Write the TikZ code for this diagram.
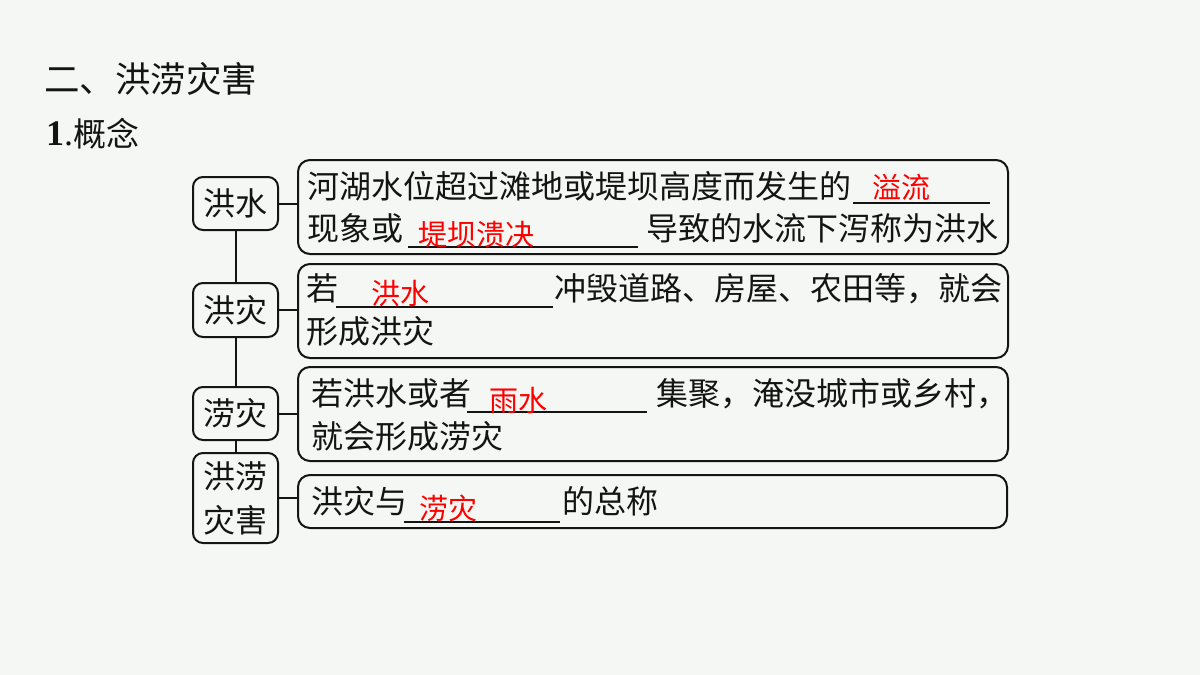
\documentclass[tikz,border=0pt]{standalone}
\usepackage{fontspec}
\newfontfamily\cjk{Noto Sans CJK SC}
\newfontfamily\serif{Liberation Serif}
\definecolor{bg}{RGB}{244,247,244}
\definecolor{ink}{RGB}{20,20,20}
\begin{document}
\begin{tikzpicture}[x=1pt,y=-1pt,
  bx/.style={draw=ink, line width=2pt, rounded corners=12pt, anchor=north west, inner sep=0pt},
  lbx/.style={draw=ink, line width=2pt, rounded corners=10pt, inner sep=0pt, align=center,
     font=\cjk\fontsize{32pt}{44pt}\selectfont, text=ink},
  conn/.style={draw=ink, line width=2pt},
  ul/.style={draw=ink, line width=1.5pt},
  bt/.style={anchor=base west, inner sep=0pt, text=ink, font=\cjk\fontsize{32pt}{38pt}\selectfont},
  rt/.style={anchor=base west, inner sep=0pt, text=red, font=\cjk\fontsize{29pt}{34pt}\selectfont}]
\fill[bg] (0,0) rectangle (1200,675);
\useasboundingbox (0,0) rectangle (1200,675);

% headings
\node[anchor=base west, inner sep=0pt, text=ink, font=\cjk\fontsize{35.5pt}{40pt}\selectfont] (title) at (44,92) {二、洪涝灾害};
\node[anchor=base west, inner sep=0pt, text=ink, font=\serif\fontsize{36pt}{40pt}\selectfont] (num) at (46,145) {\textbf{1}.};
\node[bt, font=\cjk\fontsize{33pt}{38pt}\selectfont] (gn) at (73,146) {概念};

% left boxes
\node[lbx, minimum width=85pt, minimum height=53pt] (l1) at (235.5,203.5) {洪水};
\node[lbx, minimum width=85pt, minimum height=54pt] (l2) at (235.5,310) {洪灾};
\node[lbx, minimum width=85pt, minimum height=53pt] (l3) at (235.5,413.5) {涝灾};
\node[lbx, minimum width=85pt, minimum height=90pt] (l4) at (235.5,498) {洪涝\\灾害};

% right boxes
\node[bx, minimum width=710pt, minimum height=94pt] (b1) at (297,159) {};
\node[bx, minimum width=710pt, minimum height=94pt] (b2) at (297,263) {};
\node[bx, minimum width=710pt, minimum height=94pt] (b3) at (297,366) {};
\node[bx, minimum width=709pt, minimum height=53pt] (b4) at (297,474) {};

% connectors
\draw[conn] (l1.south) -- (l2.north);
\draw[conn] (l2.south) -- (l3.north);
\draw[conn] (l3.south) -- (l4.north);
\draw[conn] (l1.east) -- (l1.east -| b1.west);
\draw[conn] (l2.east) -- (l2.east -| b2.west);
\draw[conn] (l3.east) -- (l3.east -| b3.west);
\draw[conn] (l4.east) -- (l4.east -| b4.west);

% box 1
\node[bt] (t1a) at (307,198) {河湖水位超过滩地或堤坝高度而发生的};
\draw[ul] (853,203) -- (990,203);
\node[rt] (r1a) at (872,198) {溢流};
\node[bt] (t1b) at (307,240) {现象或};
\draw[ul] (408,247) -- (638,247);
\node[rt] (r1b) at (418,245) {堤坝溃决};
\node[bt] (t1c) at (646,240) {导致的水流下泻称为洪水};

% box 2
\node[bt] (t2a) at (306,300) {若};
\draw[ul] (336,307) -- (553,307);
\node[rt] (r2a) at (371,304) {洪水};
\node[bt] (t2b) at (554,300) {冲毁道路、房屋、农田等，就会};
\node[bt] (t2c) at (306,343) {形成洪灾};

% box 3
\node[bt] (t3a) at (311,405) {若洪水或者};
\draw[ul] (467,412) -- (647,412);
\node[rt] (r3a) at (489,411) {雨水};
\node[bt] (t3b) at (656,405) {集聚，淹没城市或乡村，};
\node[bt] (t3c) at (311,448) {就会形成涝灾};

% box 4
\node[bt] (t4a) at (311,513) {洪灾与};
\draw[ul] (404,522) -- (560,522);
\node[rt] (r4a) at (419,519) {涝灾};
\node[bt] (t4b) at (562,513) {的总称};
\end{tikzpicture}
\end{document}
